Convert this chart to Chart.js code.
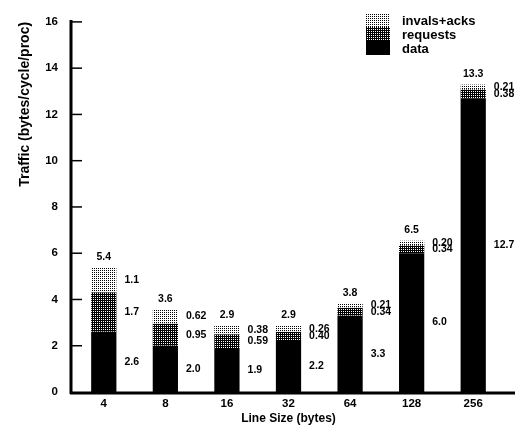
<!DOCTYPE html>
<html>
<head>
<meta charset="utf-8">
<script src="https://cdn.jsdelivr.net/npm/chart.js@4"></script>
<style>
  html, body { margin: 0; padding: 0; background: #fff; }
  #c { display: block; }
</style>
</head>
<body>
<canvas id="c" width="517" height="432"></canvas>
<script>
// line sizes on the x axis
const lineSizes = ["4", "8", "16", "32", "64", "128", "256"];

// traffic per component (bytes/cycle/proc)
const dataTraffic = [2.6, 2.0, 1.9, 2.2, 3.3, 6.0, 12.7];
const requestTraffic = [1.7, 0.95, 0.59, 0.40, 0.34, 0.34, 0.38];
const invalTraffic = [1.1, 0.62, 0.38, 0.26, 0.21, 0.20, 0.21];

// printed labels, as they appear in the figure
const dataLabels = ["2.6", "2.0", "1.9", "2.2", "3.3", "6.0", "12.7"];
const requestLabels = ["1.7", "0.95", "0.59", "0.40", "0.34", "0.34", "0.38"];
const invalLabels = ["1.1", "0.62", "0.38", "0.26", "0.21", "0.20", "0.21"];
const totalLabels = ["5.4", "3.6", "2.9", "2.9", "3.8", "6.5", "13.3"];

const FONT = "'Liberation Sans', Arial, Helvetica, sans-serif";

function makePattern(bg, fg, dots) {
    const p = document.createElement("canvas");
    p.width = 4;
    p.height = 4;
    const pc = p.getContext("2d");
    pc.fillStyle = bg;
    pc.fillRect(0, 0, 4, 4);
    pc.fillStyle = fg;
    dots.forEach(d => pc.fillRect(d[0], d[1], 1, 1));
    return pc.createPattern(p, "repeat");
}

const ctx = document.getElementById("c").getContext("2d");
const lightDots = makePattern("#fff", "#000", [[0, 0], [2, 2], [2, 0], [0, 2]]);
const darkDots = makePattern("#000", "#fff", [[1, 1], [3, 3], [1, 3], [3, 1]]);

const series = [
    { label: "data", values: dataTraffic, labels: dataLabels, fill: "#000" },
    { label: "requests", values: requestTraffic, labels: requestLabels, fill: darkDots },
    { label: "invals+acks", values: invalTraffic, labels: invalLabels, fill: lightDots },
];

// axes, inner tick marks, value labels and legend
const decorations = {
    id: "decorations",
    afterDatasetsDraw(chart) {
        const c = chart.ctx;
        const area = chart.chartArea;
        const yScale = chart.scales.y;
        c.save();
        c.strokeStyle = "#000";

        // y axis
        c.lineWidth = 3;
        c.beginPath();
        c.moveTo(area.left - 2, area.top - 2);
        c.lineTo(area.left - 2, area.bottom + 2);
        c.stroke();
        // x axis
        c.beginPath();
        c.moveTo(area.left - 3, area.bottom + 1);
        c.lineTo(chart.width - 2, area.bottom + 1);
        c.stroke();

        c.lineWidth = 1.5;
        yScale.ticks.forEach(t => {
            if (t.value === 0) return;
            const y = yScale.getPixelForValue(t.value);
            c.beginPath();
            c.moveTo(area.left - 1, y);
            c.lineTo(area.left + 9, y);
            c.stroke();
        });

        // segment labels to the right of each bar
        c.fillStyle = "#000";
        c.font = "bold 10.5px " + FONT;
        c.textAlign = "left";
        c.textBaseline = "middle";
        series.forEach((s, i) => {
            const meta = chart.getDatasetMeta(i);
            meta.data.forEach((bar, j) => {
                c.fillText(s.labels[j], bar.x + bar.width / 2 + 8, (bar.y + bar.base) / 2);
            });
        });

        // totals above the bars
        const top = chart.getDatasetMeta(series.length - 1);
        c.textAlign = "center";
        c.textBaseline = "bottom";
        top.data.forEach((bar, j) => {
            c.fillText(totalLabels[j], bar.x, bar.y - 5);
        });

        // legend, swatches stacked without gaps
        const lx = 366, ly = 13, sw = 24, sh = 14;
        c.font = "bold 13px " + FONT;
        c.textAlign = "left";
        c.textBaseline = "middle";
        for (let k = series.length - 1, row = 0; k >= 0; k--, row++) {
            c.fillStyle = series[k].fill;
            c.fillRect(lx, ly + row * sh, sw, sh);
            c.fillStyle = "#000";
            c.fillText(series[k].label, lx + 36, ly + row * sh + 8);
        }
        c.restore();
    },
};

const chart = new Chart(ctx, {
    type: "bar",
    data: {
        labels: lineSizes,
        datasets: series.map(s => ({
            label: s.label,
            data: s.values,
            backgroundColor: s.fill,
            borderWidth: 0,
            barPercentage: 0.41,
            categoryPercentage: 1.0,
        })),
    },
    options: {
        responsive: false,
        animation: false,
        devicePixelRatio: 1,
        layout: { padding: { top: 15, right: 13, left: 0, bottom: 6 } },
        plugins: {
            legend: { display: false },
            tooltip: { enabled: false },
        },
        scales: {
            x: {
                stacked: true,
                grid: { display: false, drawTicks: false },
                border: { display: false },
                ticks: {
                    color: "#000",
                    font: { family: FONT, weight: "bold", size: 11.5 },
                    padding: 5,
                },
                title: {
                    display: true,
                    text: "Line Size (bytes)",
                    color: "#000",
                    font: { family: FONT, weight: "bold", size: 12 },
                    padding: { top: 0, bottom: 0 },
                },
                afterFit(scale) { scale.height = 34; },
            },
            y: {
                stacked: true,
                min: 0,
                max: 16,
                grid: { display: false, drawTicks: false },
                border: { display: false },
                ticks: {
                    stepSize: 2,
                    color: "#000",
                    font: { family: FONT, weight: "bold", size: 11.5 },
                    padding: 15,
                },
                title: {
                    display: true,
                    text: "Traffic (bytes/cycle/proc)",
                    align: "end",
                    color: "#000",
                    font: { family: FONT, weight: "bold", size: 14 },
                    padding: { top: 17, bottom: 0 },
                },
                afterFit(scale) { scale.width = 73; },
            },
        },
    },
    plugins: [decorations],
});
</script>
</body>
</html>
